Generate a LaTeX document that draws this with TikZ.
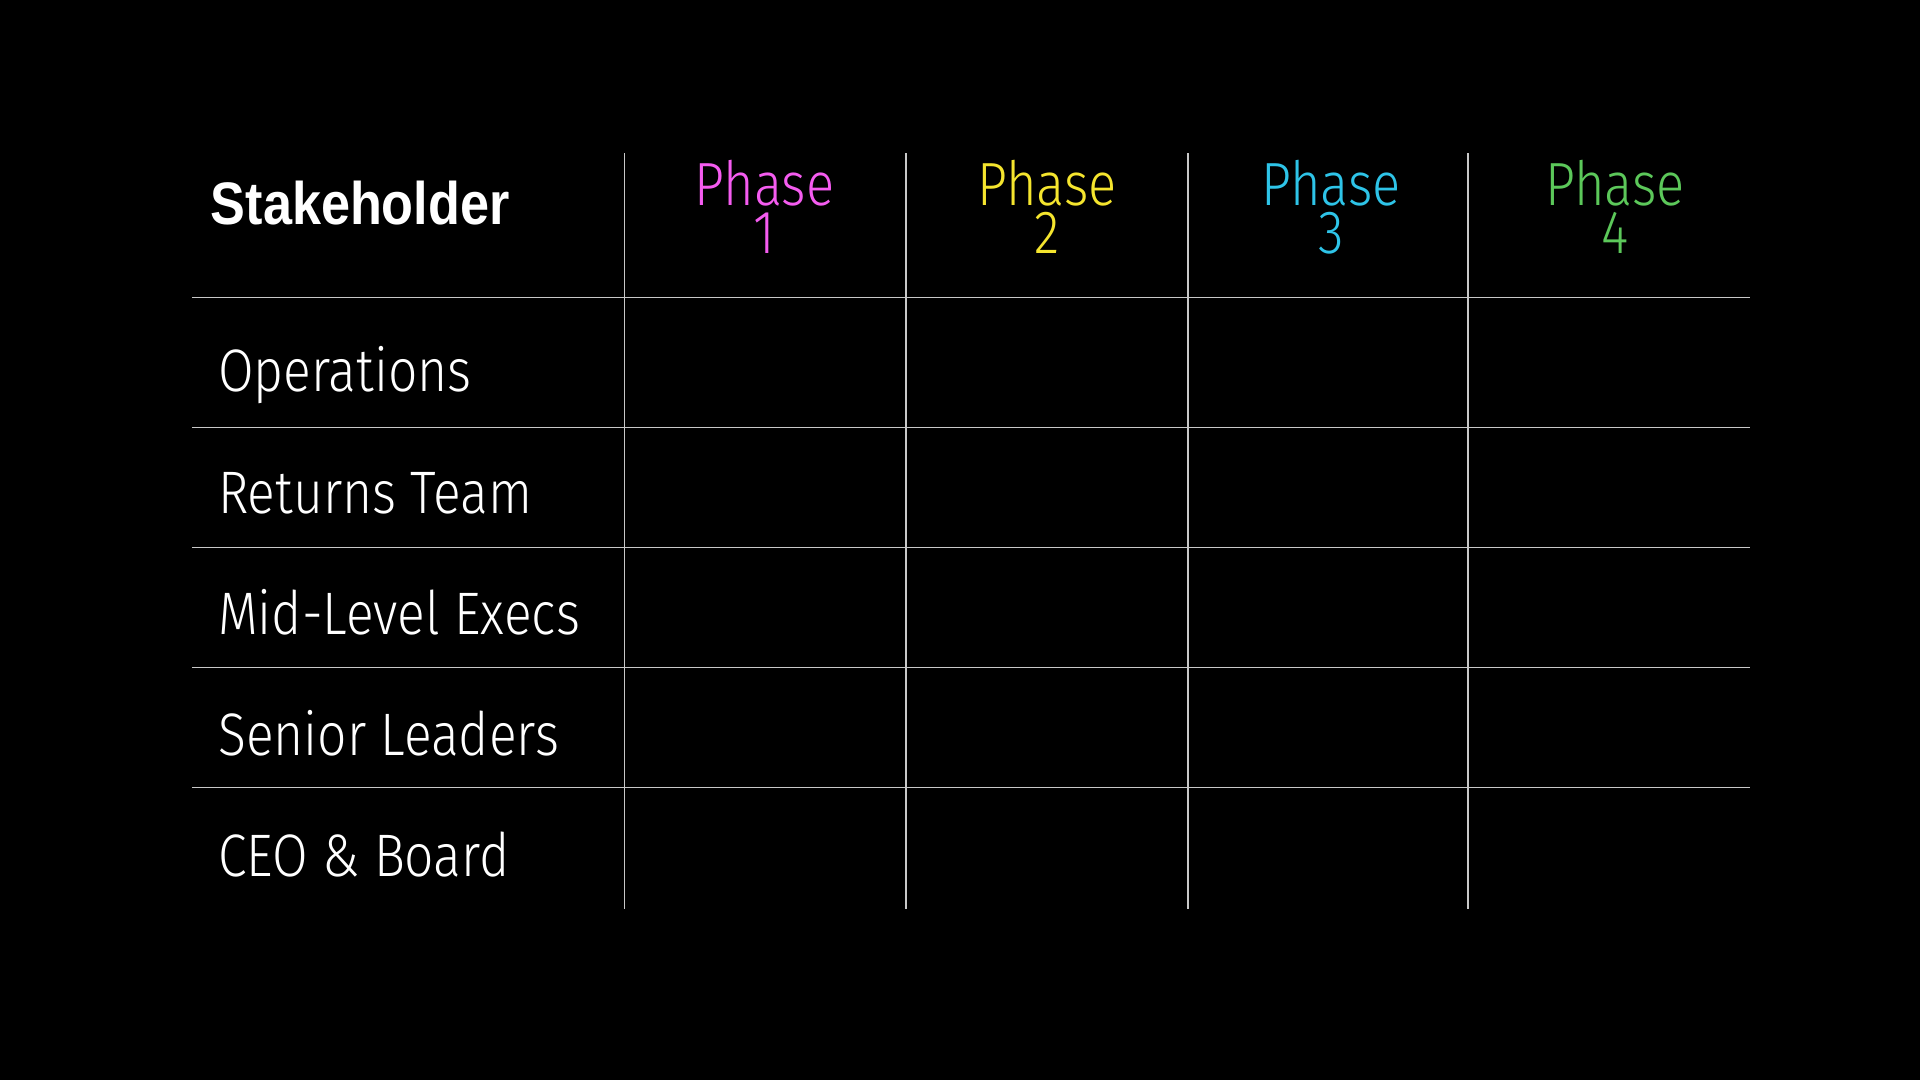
\documentclass[tikz,border=0pt]{standalone}
\usepackage{fontspec}
\setmainfont{Fira Sans Light}[FakeStretch=0.86]
\newfontfamily\headfont{Liberation Sans}[FakeStretch=0.87]
\definecolor{pone}{HTML}{F55CF0}
\definecolor{ptwo}{HTML}{F5E52E}
\definecolor{pthree}{HTML}{2EC4E8}
\definecolor{pfour}{HTML}{5CC85A}
\definecolor{gridc}{HTML}{C8C8C8}
\tikzset{
  gridline/.style={draw=gridc, line width=1.5pt},
  rowlabel/.style={anchor=base west, inner sep=0pt, text=white, font=\fontsize{60}{66}\selectfont},
  phaselabel/.style={anchor=base, inner sep=0pt, align=center, font=\fontsize{61}{48}\selectfont},
  headlabel/.style={anchor=base west, inner sep=0pt, text=white, font=\headfont\bfseries\fontsize{60}{66}\selectfont}
}
\begin{document}
\begin{tikzpicture}[x=1pt,y=-1pt]
\fill[black] (0,0) rectangle (1920,1080);
\useasboundingbox (0,0) rectangle (1920,1080);
% grid
\foreach \yy in {297.5,427.4,547.4,667.4,787.4}
  \draw[gridline] (192.2,\yy) -- (1749.8,\yy);
\foreach \xx in {624.5,906.1,1187.8,1468.2}
  \draw[gridline] (\xx,153) -- (\xx,908.6);
% header
\node[headlabel] (stake) at (210.6,224) {Stakeholder};
\node[phaselabel, text=pone] (ph1) at (764.5,253.5) {Phase\\1};
\node[phaselabel, text=ptwo] (ph2) at (1047,253.5) {Phase\\2};
\node[phaselabel, text=pthree] (ph3) at (1331,253.5) {Phase\\3};
\node[phaselabel, text=pfour] (ph4) at (1615,253.5) {Phase\\4};
% rows
\node[rowlabel] (r1) at (218,391.8) {Operations};
\node[rowlabel] (r2) at (218,513) {Returns Team};
\node[rowlabel] (r3) at (218,634) {Mid-Level Execs};
\node[rowlabel] (r4) at (218,755.5) {Senior Leaders};
\node[rowlabel] (r5) at (218,876.7) {CEO \& Board};
\end{tikzpicture}
\end{document}
